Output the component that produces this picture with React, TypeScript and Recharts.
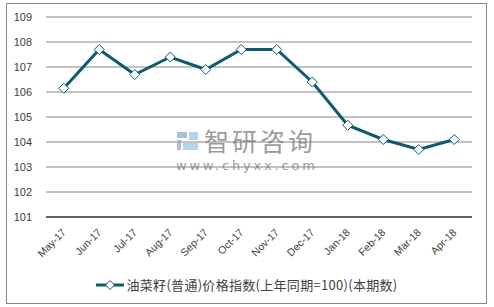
import React from 'react';
import { LineChart, Line, XAxis, YAxis, CartesianGrid, Legend } from 'recharts';

const months = ['May-17', 'Jun-17', 'Jul-17', 'Aug-17', 'Sep-17', 'Oct-17', 'Nov-17', 'Dec-17', 'Jan-18', 'Feb-18', 'Mar-18', 'Apr-18'];
const indexValues = [106.15, 107.7, 106.7, 107.4, 106.9, 107.7, 107.7, 106.4, 104.67, 104.1, 103.7, 104.1];
const yTicks = [101, 102, 103, 104, 105, 106, 107, 108, 109];
const seriesName = '油菜籽(普通)价格指数(上年同期=100)(本期数)';

const LINE_COLOR = '#0e5a6e';

const data = months.map((m, i) => ({ month: m, value: indexValues[i] }));

const Diamond = (props: any) => {
  const { cx, cy } = props;
  if (cx == null || cy == null) return null;
  const r = 5;
  return (
    <polygon
      points={`${cx},${cy - r} ${cx + r},${cy} ${cx},${cy + r} ${cx - r},${cy}`}
      fill="#fff"
      stroke={LINE_COLOR}
      strokeWidth={1}
    />
  );
};

const XTick = (props: any) => {
  const { x, y, payload } = props;
  return (
    <text
      x={x + 3}
      y={y + 8}
      textAnchor="end"
      fontSize={10.5}
      fill="#404040"
      fontFamily="Arial, 'Liberation Sans', sans-serif"
      transform={`rotate(-45, ${x + 3}, ${y + 8})`}
    >
      {payload.value}
    </text>
  );
};

const LegendContent = () => (
  <div style={{ display: 'flex', justifyContent: 'center', alignItems: 'center' }}>
    <svg width={28} height={12} style={{ marginRight: 2 }}>
      <line x1={0} y1={6} x2={28} y2={6} stroke={LINE_COLOR} strokeWidth={3} />
      <polygon points="14,1.5 18.5,6 14,10.5 9.5,6" fill="#fff" stroke={LINE_COLOR} strokeWidth={1} />
    </svg>
    <span style={{ fontSize: 13, letterSpacing: 0.3, color: '#404040', fontFamily: "'Noto Sans CJK SC', sans-serif" }}>{seriesName}</span>
  </div>
);

export default function App() {
  return (
    <div style={{ position: 'absolute', left: 0, top: 0, width: 494, height: 307, background: '#fff' }}>
      <div
        style={{
          position: 'absolute',
          left: 6,
          top: 3,
          width: 479,
          height: 299,
          border: '1px solid #868686',
        }}
      />
      <LineChart
        width={494}
        height={307}
        data={data}
        margin={{ top: 17, right: 22, left: 0, bottom: 0 }}
      >
        <CartesianGrid vertical={false} stroke="#868686" />
        <XAxis
          dataKey="month"
          interval={0}
          height={71}
          padding={{ left: 17.75, right: 17.75 }}
          tickLine={false}
          axisLine={{ stroke: '#000' }}
          tick={<XTick />}
        />
        <YAxis
          domain={[101, 109]}
          ticks={yTicks}
          width={46}
          axisLine={false}
          tickLine={false}
          tick={{ fontSize: 11, fill: '#404040', fontFamily: "Arial, 'Liberation Sans', sans-serif" }}
          tickMargin={8}
        />
        <Legend
          content={<LegendContent />}
          wrapperStyle={{ position: 'absolute', top: 275, left: 0, width: 494 }}
        />
        <Line
          type="linear"
          dataKey="value"
          name={seriesName}
          stroke={LINE_COLOR}
          strokeWidth={3}
          dot={<Diamond />}
          activeDot={false}
          isAnimationActive={false}
        />
      </LineChart>
      <div style={{ position: 'absolute', left: 176, top: 127, pointerEvents: 'none', opacity: 0.75 }}>
        <div style={{ display: 'flex', alignItems: 'center' }}>
          <svg width={24} height={22} style={{ marginRight: 4 }}>
            <rect x={1} y={2} width={10} height={6} fill="#8fa7cc" />
            <rect x={1} y={10} width={4} height={10} fill="#8fa7cc" />
            <rect x={13} y={2} width={9} height={8} fill="#9ec3e6" />
            <rect x={7} y={13} width={15} height={7} fill="#9ec3e6" />
          </svg>
          <span style={{ fontSize: 25, color: '#7a7a7a', fontFamily: "'Noto Sans CJK SC', sans-serif", letterSpacing: 3, lineHeight: '27px' }}>
            智研咨询
          </span>
        </div>
        <div style={{ fontSize: 13, color: '#7a7a7a', fontFamily: "'DejaVu Sans', sans-serif", letterSpacing: 2.8, marginTop: 5, lineHeight: '14px' }}>
          www.chyxx.com
        </div>
      </div>
    </div>
  );
}
